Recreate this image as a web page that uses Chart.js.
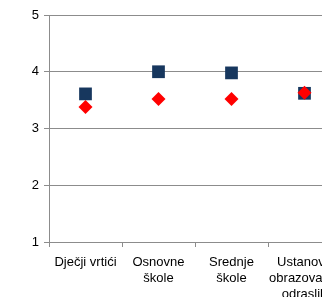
<!DOCTYPE html>
<html>
<head>
<meta charset="utf-8">
<script src="https://cdn.jsdelivr.net/npm/chart.js@4/dist/chart.umd.min.js"></script>
<style>
  html, body { margin: 0; padding: 0; background: #fff; overflow: hidden; }
  #wrap { position: absolute; left: 0; top: 0; width: 350px; height: 297px; }
</style>
</head>
<body>
<div id="wrap"><canvas id="myChart" width="350" height="297"></canvas></div>
<script>
const labels = ["Dječji vrtići", ["Osnovne", "škole"], ["Srednje", "škole"], ["Ustanove", "obrazovanja", "odraslih"]]
const plaviNiz = [3.61, 4.0, 3.98, 3.62]
const crveniNiz = [3.38, 3.52, 3.52, 3.63]
const yTicks = [1, 2, 3, 4, 5]

const siva = "#8c8c8c"

const data = {
  labels: labels,
  datasets: [
    {
      label: "crveno",
      data: crveniNiz,
      showLine: false,
      pointStyle: "rectRot",
      pointRadius: 7,
      pointHoverRadius: 7,
      backgroundColor: "#ff0000",
      borderColor: "#ff0000",
      borderWidth: 0,
    },
    {
      label: "plavo",
      data: plaviNiz,
      showLine: false,
      pointStyle: "rect",
      pointRadius: 9,
      pointHoverRadius: 9,
      backgroundColor: "#17375e",
      borderColor: "#17375e",
      borderWidth: 0,
    },
  ],
}

const config = {
  type: "line",
  data: data,
  options: {
    responsive: false,
    animation: false,
    layout: { padding: { top: 15, right: 5, left: 0, bottom: 0 } },
    plugins: { legend: { display: false }, tooltip: { enabled: false } },
    scales: {
      x: {
        offset: true,
        grid: { offset: true, drawOnChartArea: false, color: siva, tickLength: 5 },
        border: { color: siva },
        ticks: { color: "#000", font: { family: "Liberation Sans", size: 13, lineHeight: 1.23 }, padding: 7, maxRotation: 0, autoSkip: false },
        afterFit: function (s) { s.height = 55 },
      },
      y: {
        min: 1,
        max: 5,
        afterBuildTicks: function (s) { s.ticks = yTicks.map(function (v) { return { value: v } }) },
        grid: { color: siva, tickLength: 5 },
        border: { color: siva },
        ticks: { color: "#000", font: { family: "Liberation Sans", size: 13 }, padding: 5 },
        afterFit: function (s) { s.width = 49 },
      },
    },
  },
}

const myChart = new Chart(document.getElementById("myChart"), config)
</script>
</body>
</html>
